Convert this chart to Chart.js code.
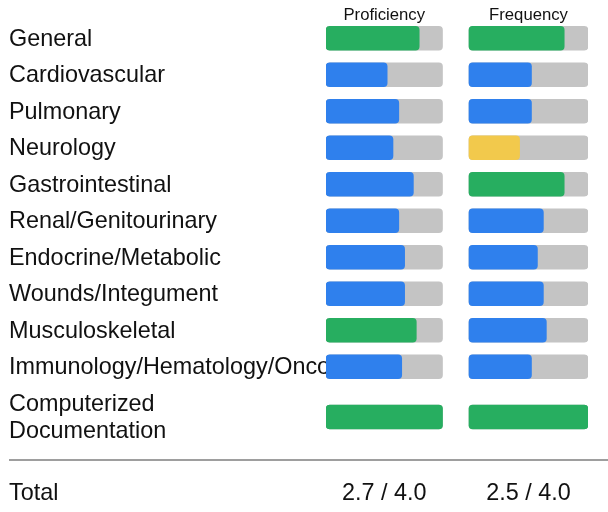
<!DOCTYPE html>
<html>
<head>
<meta charset="utf-8">
<script src="https://cdn.jsdelivr.net/npm/chart.js@4"></script>
<style>
  html, body { margin: 0; padding: 0; background: #fff; }
  #chart { display: block; }
</style>
</head>
<body>
<canvas id="chart" width="608" height="512"></canvas>
<script>
// data (scale 0 - 4)
const categories = [
    'General', 'Cardiovascular', 'Pulmonary', 'Neurology', 'Gastrointestinal',
    'Renal/Genitourinary', 'Endocrine/Metabolic', 'Wounds/Integument',
    'Musculoskeletal', 'Immunology/Hematology/Oncology',
    ['Computerized', 'Documentation']
];
const proficiency = [3.2, 2.1, 2.5, 2.3, 3.0, 2.5, 2.7, 2.7, 3.1, 2.6, 4.0];
const frequency   = [3.2, 2.1, 2.1, 1.7, 3.2, 2.5, 2.3, 2.5, 2.6, 2.1, 4.0];
const columnTitles = ['Proficiency', 'Frequency'];
const totals = ['2.7 / 4.0', '2.5 / 4.0'];
const maxScore = 4;

// layout (pixels)
const FONT = '"Liberation Sans", Arial, sans-serif';
const BIG = '23.4px ' + FONT;
const LABEL_X = 9;
const TOP = 20;
const LINE_H = 27.5;
const ROW_PAD = 9;
const PROF_LEFT = 326, PROF_W = 116.5;
const FREQ_LEFT = 469, FREQ_W = 119;
const RIGHT = FREQ_LEFT + FREQ_W;

const GREEN = '#27ae60', BLUE = '#2f80ed', YELLOW = '#f2c94c', GREY = '#c4c4c4';

function colourFor(v) {
    if (v > 3) return GREEN;
    if (v < 2) return YELLOW;
    return BLUE;
}

// row centres follow the height of each label, like table rows
const rowCentres = [];
let acc = 0;
categories.forEach(c => {
    const lines = Array.isArray(c) ? c.length : 1;
    const h = lines * LINE_H + ROW_PAD;
    rowCentres.push(acc + h / 2);
    acc += h;
});
const totalHeight = acc;

const pts = arr => arr.map((v, i) => ({ x: v, y: rowCentres[i] }));
const track = categories.map(() => maxScore);

// each column gets its own hidden x scale placed over the chart area
const areaW = RIGHT - PROF_LEFT;
const profUnit = PROF_W / maxScore;
const freqUnit = FREQ_W / maxScore;

const labelsPlugin = {
    id: 'rowLabels',
    beforeDatasetsDraw(chart) {
        const ctx = chart.ctx;
        const y = chart.scales.y;
        ctx.save();
        ctx.fillStyle = '#111';
        ctx.font = BIG;
        ctx.textAlign = 'left';
        ctx.textBaseline = 'middle';
        categories.forEach((c, i) => {
            const lines = Array.isArray(c) ? c : [c];
            const cy = y.getPixelForValue(rowCentres[i]);
            lines.forEach((t, k) => {
                const off = (k - (lines.length - 1) / 2) * LINE_H;
                ctx.fillText(t, LABEL_X, cy + off + 1);
            });
        });
        ctx.restore();
    },
    afterDraw(chart) {
        const ctx = chart.ctx;
        const xp = chart.scales.xp, xf = chart.scales.xf;
        const centres = [
            (xp.getPixelForValue(0) + xp.getPixelForValue(maxScore)) / 2,
            (xf.getPixelForValue(0) + xf.getPixelForValue(maxScore)) / 2
        ];
        ctx.save();
        ctx.fillStyle = '#111';
        ctx.textAlign = 'center';
        ctx.textBaseline = 'alphabetic';
        ctx.font = '16.7px ' + FONT;
        columnTitles.forEach((t, i) => ctx.fillText(t, centres[i], 20));

        ctx.strokeStyle = '#9e9e9e';
        ctx.lineWidth = 2;
        ctx.beginPath();
        ctx.moveTo(LABEL_X, 460);
        ctx.lineTo(608, 460);
        ctx.stroke();

        ctx.font = BIG;
        totals.forEach((t, i) => ctx.fillText(t, centres[i], 500));
        ctx.textAlign = 'left';
        ctx.fillText('Total', LABEL_X, 500);
        ctx.restore();
    }
};

const barStyle = {
    barThickness: 24,
    borderRadius: 4,
    borderSkipped: false,
    grouped: false
};

new Chart(document.getElementById('chart'), {
    type: 'bar',
    data: {
        datasets: [
            Object.assign({ label: 'Proficiency', data: pts(proficiency), xAxisID: 'xp',
                backgroundColor: proficiency.map(colourFor), order: 1 }, barStyle),
            Object.assign({ label: 'Frequency', data: pts(frequency), xAxisID: 'xf',
                backgroundColor: frequency.map(colourFor), order: 1 }, barStyle),
            Object.assign({ label: 'ptrack', data: pts(track), xAxisID: 'xp',
                backgroundColor: GREY, order: 2 }, barStyle),
            Object.assign({ label: 'ftrack', data: pts(track), xAxisID: 'xf',
                backgroundColor: GREY, order: 2 }, barStyle)
        ]
    },
    options: {
        responsive: false,
        animation: false,
        indexAxis: 'y',
        layout: {
            padding: { left: PROF_LEFT, right: 608 - RIGHT, top: TOP, bottom: 512 - TOP - totalHeight }
        },
        scales: {
            y: { type: 'linear', display: false, reverse: true, offset: false, min: 0, max: totalHeight },
            xp: { type: 'linear', axis: 'x', display: false, offset: false, min: 0, max: areaW / profUnit },
            xf: { type: 'linear', axis: 'x', display: false, offset: false,
                  min: -(FREQ_LEFT - PROF_LEFT) / freqUnit,
                  max: -(FREQ_LEFT - PROF_LEFT) / freqUnit + areaW / freqUnit }
        },
        plugins: {
            legend: { display: false },
            tooltip: { enabled: false }
        }
    },
    plugins: [labelsPlugin]
});
</script>
</body>
</html>
